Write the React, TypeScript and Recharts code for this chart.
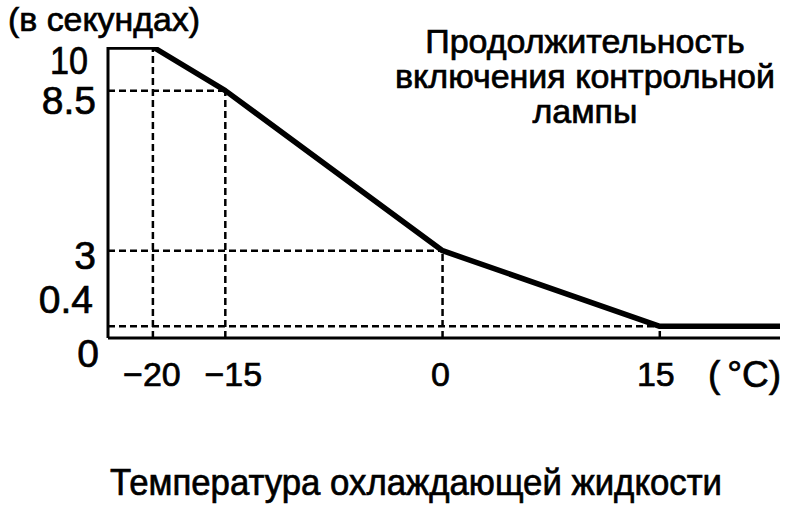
import React from 'react';
import { LineChart, Line, XAxis, YAxis, ReferenceLine } from 'recharts';

// coolant temperature (°C) -> indicator lamp on-time (s)
const temps = [-23.1, -20, -15, 0, 15, 23.3];
const durations = [10, 10, 8.5, 3, 0.4, 0.4];
const xTicks = [-20, -15, 0, 15];
const yTicks = [0, 0.4, 3, 8.5, 10];

const yAxisTitle = '(в секундах)';
const xAxisTitle = 'Температура охлаждающей жидкости';
const noteLines = ['Продолжительность', 'включения контрольной', 'лампы'];

const FONT = '"Liberation Sans", Arial, sans-serif';
const X_MIN = -23.1;
const X_MAX = 23.3;

const data = temps.map((t, i) => ({ t, s: durations[i] }));
// break points of the curve, used for the dashed guide lines
const breaks = data.slice(1, 5);

// label nudges, tuned by eye against the original drawing
const yLabelShift: Record<number, [number, number]> = {
  10: [-8, 13],
  8.5: [0, 9],
  3: [0, 4],
  0.4: [-3, -27],
  0: [3, 15],
};
const xLabelShift: Record<number, number> = { [-20]: -1, [-15]: 8, 0: -2, 15: -4 };

// a thin outline makes Liberation Sans look closer to the heavier scan
const ink = { fill: '#000', stroke: '#000', strokeWidth: 0.7 };

function YTick(props: any) {
  const { x, y, payload } = props;
  const [dx, dy] = yLabelShift[payload.value] || [0, 0];
  const label = String(payload.value);
  return (
    <text
      x={x - 12 + dx}
      y={y + dy}
      dy="0.36em"
      textAnchor="end"
      fontSize={39}
      fontFamily={FONT}
      {...ink}
      textLength={label === '10' ? 38 : undefined}
      lengthAdjust="spacingAndGlyphs"
    >
      {label}
    </text>
  );
}

function XTick(props: any) {
  const { x, y, payload } = props;
  const v = payload.value;
  const label = v < 0 ? '\u2212' + Math.abs(v) : String(v);
  return (
    <text x={x + (xLabelShift[v] || 0)} y={y + 48} textAnchor="middle" fontSize={34} fontFamily={FONT} {...ink}>
      {label}
    </text>
  );
}

export default function App() {
  const dash = { stroke: '#000', strokeWidth: 2.5, strokeDasharray: '7 4' };
  return (
    <div style={{ position: 'absolute', left: 0, top: 0, width: 800, height: 511, background: '#fff' }}>
      <LineChart
        width={800}
        height={511}
        data={data}
        margin={{ top: 47, right: 20, bottom: 123, left: 8 }}
      >
        <XAxis
          dataKey="t"
          type="number"
          domain={[X_MIN, X_MAX]}
          ticks={xTicks}
          interval={0}
          allowDataOverflow
          height={50}
          tickLine={false}
          tickSize={0}
          tickMargin={0}
          axisLine={{ stroke: '#000', strokeWidth: 3 }}
          tick={<XTick />}
        />
        <YAxis
          type="number"
          domain={[0, 10]}
          ticks={yTicks}
          interval={0}
          allowDataOverflow
          width={100}
          tickLine={false}
          tickSize={0}
          tickMargin={0}
          axisLine={{ stroke: '#000', strokeWidth: 3 }}
          tick={<YTick />}
        />
        {breaks.map((p) => (
          <ReferenceLine
            key={'v' + p.t}
            segment={[{ x: p.t, y: 0 }, { x: p.t, y: p.s }]}
            {...dash}
          />
        ))}
        {breaks
          .filter((p) => p.s < 10)
          .map((p) => (
            <ReferenceLine
              key={'h' + p.t}
              segment={[{ x: X_MIN, y: p.s }, { x: p.t, y: p.s }]}
              {...dash}
            />
          ))}
        <Line
          type="linear"
          dataKey="s"
          stroke="#000"
          strokeWidth={5.5}
          strokeLinejoin="round"
          dot={false}
          activeDot={false}
          isAnimationActive={false}
        />
      </LineChart>
      <svg
        width={800}
        height={511}
        style={{ position: 'absolute', left: 0, top: 0, pointerEvents: 'none' }}
        fontFamily={FONT}
        {...ink}
      >
        <text x={8} y={31} fontSize={34} textLength={192} lengthAdjust="spacingAndGlyphs">
          {yAxisTitle}
        </text>
        {noteLines.map((line, i) => (
          <text key={i} x={585} y={53 + i * 35} fontSize={34} textAnchor="middle">
            {line}
          </text>
        ))}
        <text x={708} y={387} fontSize={37}>
          (<tspan dx={7}>°C)</tspan>
        </text>
        <text x={110} y={495} fontSize={37} textLength={612} lengthAdjust="spacingAndGlyphs">
          {xAxisTitle}
        </text>
      </svg>
    </div>
  );
}
